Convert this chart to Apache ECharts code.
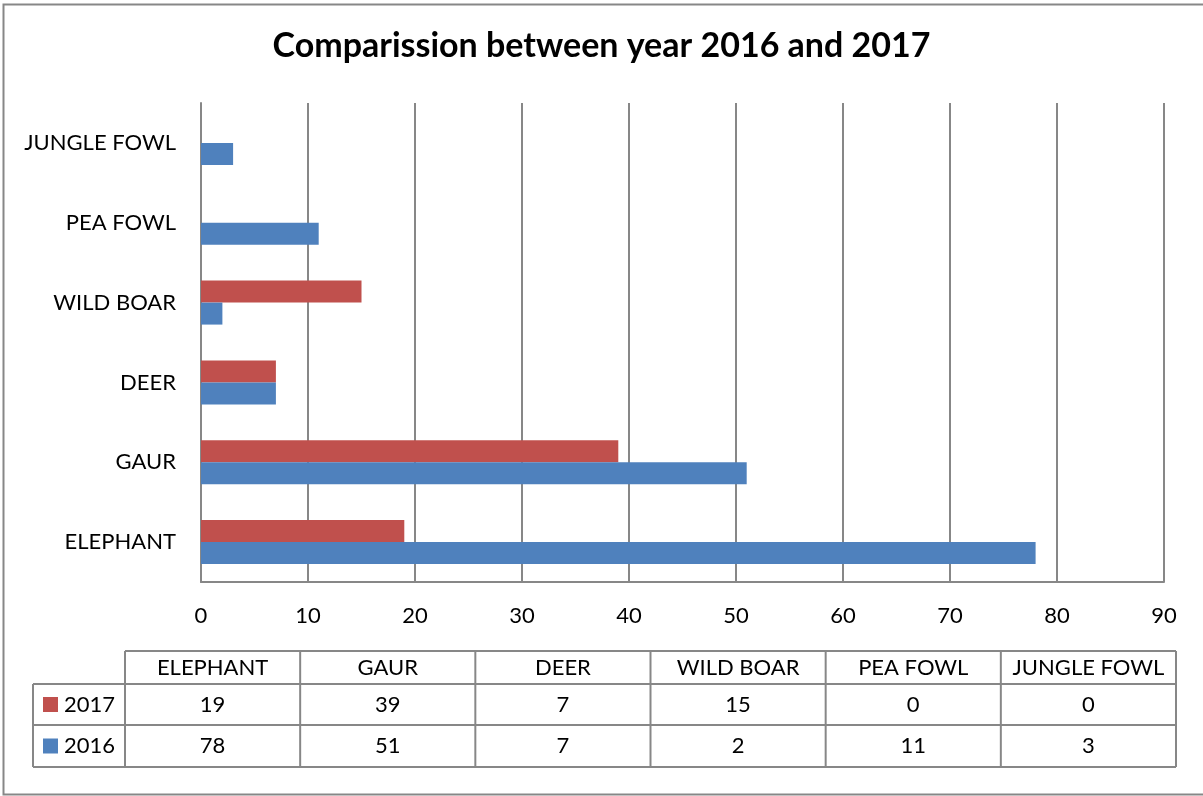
<!DOCTYPE html>
<html>
<head>
<meta charset="utf-8">
<script src="https://cdn.jsdelivr.net/npm/echarts@6/dist/echarts.min.js"></script>
<style>
html,body{margin:0;padding:0;background:#fff;}
#chart{width:1203px;height:796px;}
</style>
</head>
<body>
<div id="chart"></div>
<script>
var titleText = 'Comparission between year 2016 and 2017';
var categories = ['ELEPHANT', 'GAUR', 'DEER', 'WILD BOAR', 'PEA FOWL', 'JUNGLE FOWL'];
var seriesNames = ['2017', '2016'];
var values2017 = [19, 39, 7, 15, 0, 0];
var values2016 = [78, 51, 7, 2, 11, 3];
var xTicks = {min: 0, max: 90, interval: 10};

var RED = '#C0504D', BLUE = '#4F81BD', GRAY = '#878787';
var FONT = 'Lato';

var chart = echarts.init(document.getElementById('chart'), null, {renderer: 'canvas'});

// data table geometry
var tblLeft = 125, tblRight = 1176, legLeft = 33;
var rowY = [651, 684, 725, 767];
var colW = (tblRight - tblLeft) / categories.length;
var rows = [{name: seriesNames[0], color: RED, vals: values2017}, {name: seriesNames[1], color: BLUE, vals: values2016}];

var graphics = [];
// outer border
graphics.push({type: 'rect', shape: {x: 3.5, y: 4.5, width: 1220, height: 790}, style: {fill: null, stroke: GRAY, lineWidth: 2}, silent: true, z: 0});
var lineStyle = {stroke: GRAY, lineWidth: 2};
function hline(x1, x2, y) { graphics.push({type: 'line', shape: {x1: x1, y1: y, x2: x2, y2: y}, style: lineStyle, silent: true}); }
function vline(x, y1, y2) { graphics.push({type: 'line', shape: {x1: x, y1: y1, x2: x, y2: y2}, style: lineStyle, silent: true}); }
hline(tblLeft, tblRight, rowY[0]);
hline(legLeft, tblRight, rowY[1]);
hline(legLeft, tblRight, rowY[2]);
hline(legLeft, tblRight, rowY[3]);
vline(legLeft, rowY[1], rowY[3]);
for (var c = 0; c <= categories.length; c++) vline(tblLeft + c * colW, rowY[0], rowY[3]);
var cellFont = {fontFamily: FONT, fontSize: 22, fill: '#000'};
categories.forEach(function (cat, i) {
  graphics.push({type: 'text', x: tblLeft + (i + 0.5) * colW, y: (rowY[0] + rowY[1]) / 2, silent: true,
    style: Object.assign({text: cat, align: 'center', verticalAlign: 'middle'}, cellFont)});
});
rows.forEach(function (r, ri) {
  var cy = (rowY[ri + 1] + rowY[ri + 2]) / 2;
  graphics.push({type: 'rect', shape: {x: 43, y: cy - 7.5, width: 15, height: 15}, style: {fill: r.color}, silent: true});
  graphics.push({type: 'text', x: 64, y: cy, silent: true, style: Object.assign({text: r.name, align: 'left', verticalAlign: 'middle'}, cellFont)});
  r.vals.forEach(function (v, i) {
    graphics.push({type: 'text', x: tblLeft + (i + 0.5) * colW, y: cy, silent: true,
      style: Object.assign({text: String(v), align: 'center', verticalAlign: 'middle'}, cellFont)});
  });
});

chart.setOption({
  animation: false,
  backgroundColor: '#fff',
  title: {
    text: titleText, left: 'center', top: 24,
    textStyle: {fontFamily: FONT, fontSize: 34, fontWeight: 'bold', color: '#000'}
  },
  grid: {left: 201, right: 39, top: 103, bottom: 214, containLabel: false},
  xAxis: {
    type: 'value', min: xTicks.min, max: xTicks.max, interval: xTicks.interval,
    axisLine: {show: true, lineStyle: {color: GRAY, width: 2}},
    axisTick: {show: false},
    splitLine: {show: true, lineStyle: {color: GRAY, width: 2}},
    axisLabel: {fontFamily: FONT, fontSize: 22, color: '#000', margin: 23}
  },
  yAxis: {
    type: 'category', data: categories,
    axisLine: {show: true, lineStyle: {color: GRAY, width: 2}},
    axisTick: {show: false},
    axisLabel: {fontFamily: FONT, fontSize: 22, color: '#000', margin: 25}
  },
  series: [
    {name: seriesNames[0], type: 'bar', data: values2017, barWidth: 22, barGap: '0%', itemStyle: {color: RED}},
    {name: seriesNames[1], type: 'bar', data: values2016, barWidth: 22, barGap: '0%', itemStyle: {color: BLUE}}
  ],
  graphic: graphics
});
</script>
</body>
</html>
